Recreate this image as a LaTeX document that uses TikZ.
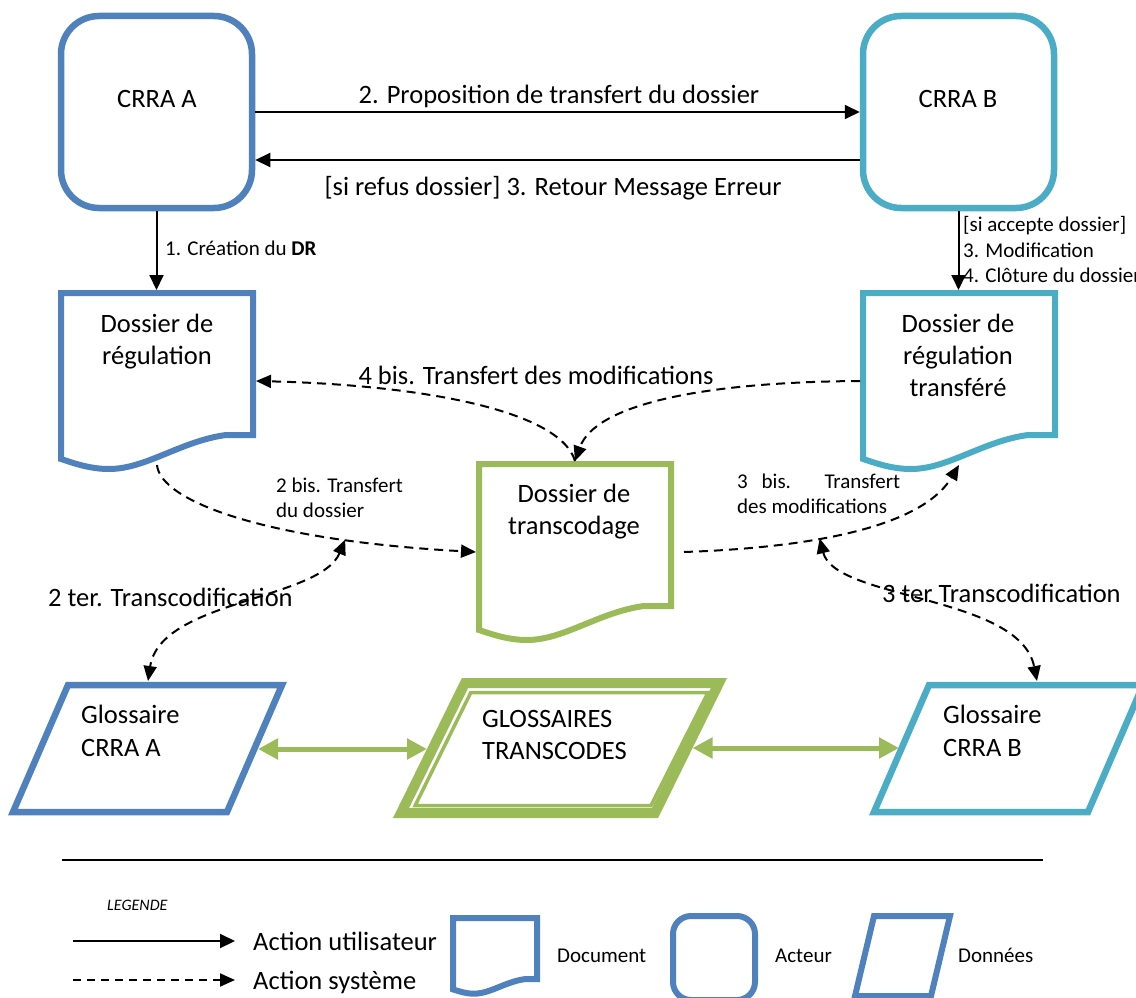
\documentclass[tikz,border=0pt]{standalone}
\usepackage{fontspec}
\setmainfont{Carlito}
\usetikzlibrary{arrows.meta}
\definecolor{actA}{RGB}{79,129,189}
\definecolor{actB}{RGB}{75,172,198}
\definecolor{dataG}{RGB}{155,187,89}
\tikzset{
  big/.style={font=\fontsize{26.5}{32}\selectfont, inner sep=0pt},
  small/.style={font=\fontsize{21}{25}\selectfont, inner sep=0pt},
  useract/.style={line width=2pt, -{Triangle[length=15pt,width=14pt]}},
  sysact/.style={line width=2pt, dash pattern=on 9pt off 6pt, -{Triangle[length=15pt,width=13pt]}},
  sysboth/.style={line width=2pt, dash pattern=on 9pt off 6pt,
    {Triangle[length=15pt,width=13pt]}-{Triangle[length=15pt,width=13pt]}},
  linkg/.style={dataG, line width=5pt,
    {Triangle[length=20pt,width=20pt]}-{Triangle[length=20pt,width=20pt]}},
  actor/.style={draw, rounded corners=38pt, line width=6.5pt,
    minimum width=191pt, minimum height=192pt, inner sep=0pt},
  docpic/.pic={
    \draw[pic actions] (0,0) -- (0,166)
      .. controls (15,171) and (30,176) .. (48,176)
      .. controls (85,176) and (120,148) .. (165,142) -- (192,142) -- (192,0) -- cycle;
    \coordinate (-top) at (96,-3);
    \coordinate (-west) at (-3,88);
    \coordinate (-east) at (195,88);
    \coordinate (-bot) at (96,172);
  }
}
\begin{document}
\begin{tikzpicture}[x=1pt,y=-1pt]
\useasboundingbox (0,0) rectangle (1136,998);

% actors
\node[actor, draw=actA] (crraA) at (156.5,112) {};
\node[actor, draw=actB] (crraB) at (958.5,112) {};
\node[big, anchor=base] (tA) at (157,107) {CRRA A};
\node[big, anchor=base] (tB) at (958,107) {CRRA B};

% documents
\pic[draw=actA, line width=6pt] (docA) at (61,293) {docpic};
\pic[draw=actB, line width=6pt] (docB) at (863,293) {docpic};
\pic[draw=dataG, line width=6pt] (docT) at (479,464) {docpic};
\node[big, anchor=base] (dA1) at (157,332) {Dossier de};
\node[big, anchor=base] (dA2) at (157,364) {régulation};
\node[big, anchor=base] (dB1) at (958,332) {Dossier de};
\node[big, anchor=base] (dB2) at (958,364) {régulation};
\node[big, anchor=base] (dB3) at (958,396) {transféré};
\node[big, anchor=base] (dT1) at (574,502) {Dossier de};
\node[big, anchor=base] (dT2) at (574,534) {transcodage};

% data stores
\draw[actA, line width=6.5pt] (68,685) -- (282,685) -- (227,812) -- (13,812) -- cycle;
\draw[actB, line width=6.5pt] (929,685) -- (1143,685) -- (1088,812) -- (874,812) -- cycle;
\draw[dataG, line width=10pt] (465,683) -- (719,683) -- (655,813) -- (401,813) -- cycle;
\draw[dataG, line width=3.5pt] (470.8,692.5) -- (708,692.5) -- (651,805.5) -- (415.2,805.5) -- cycle;
\coordinate (glA-top) at (148,681);
\coordinate (glA-east) at (258,749);
\coordinate (glB-top) at (1037,681);
\coordinate (glB-west) at (899,748);
\coordinate (glT-west) at (427,749);
\coordinate (glT-east) at (692.5,748);
\node[big, anchor=base west] (gA1) at (81,723) {Glossaire};
\node[big, anchor=base west] (gA2) at (81,756) {CRRA A};
\node[big, anchor=base west] (gB1) at (943,723) {Glossaire};
\node[big, anchor=base west] (gB2) at (943,756) {CRRA B};
\node[big, anchor=base west] (gT1) at (482,727) {GLOSSAIRES};
\node[big, anchor=base west] (gT2) at (482,759) {TRANSCODES};

% user actions
\draw[useract] (crraA.east) -- (crraB.west);
\draw[useract] ([yshift=-48pt]crraB.west) -- ([yshift=-48pt]crraA.east);
\draw[useract] (crraA.south) -- (crraA.south |- docA-top);
\draw[useract] (crraB.south) -- (crraB.south |- docB-top);
\node[big, anchor=base] (l2) at (559,103) {2. Proposition de transfert du dossier};
\node[big, anchor=base] (l3) at (553,195) {[si refus dossier] 3. Retour Message Erreur};
\node[small, anchor=base west] (l1) at (165,255) {1. Création du \textbf{DR}};
\node[small, anchor=base west] (l4a) at (963,231) {[si accepte dossier]};
\node[small, anchor=base west] (l4b) at (963,257) {3. Modification};
\node[small, anchor=base west] (l4c) at (963,282) {4. Clôture du dossier};

% system actions
\draw[sysact] (docB-west) .. controls (700,382) and (595,405) .. (docT-top);
\draw[sysact] (docT-top) .. controls (560,410) and (420,385) .. (docA-east);
\node[big, anchor=base] (l4bis) at (536,384) {4 bis. Transfert des modifications};

\draw[sysact] (docA-bot) .. controls (160,500) and (260,540) .. (docT-west)
  coordinate[pos=0.77] (j2);
\draw[sysboth] (j2) .. controls (320,600) and (160,600) .. (glA-top);
\node[small, anchor=base west] (l2bA) at (276,492) {2 bis. Transfert};
\node[small, anchor=base west] (l2bB) at (276,517) {du dossier};
\node[big, anchor=base west] (l2ter) at (48,606) {2 ter. Transcodification};

\draw[sysact] ([xshift=10pt]docT-east) .. controls (800,548) and (920,530) .. (docB-bot)
  coordinate[pos=0.4] (j3);
\draw[sysboth] (j3) .. controls (835,600) and (1020,595) .. (glB-top);
\node[small, anchor=base west] (l3bA) at (737,488) {\makebox[163pt][s]{3 bis. Transfert}};
\node[small, anchor=base west] (l3bB) at (737,513) {des modifications};
\node[big, anchor=base west] (l3ter) at (882,602) {3 ter Transcodification};

% links between glossaries
\draw[linkg] (glA-east) -- (glT-west);
\draw[linkg] (glT-east) -- (glB-west);

% legend
\draw[line width=1.5pt] (62,860) coordinate (sepL) -- (1043,860) coordinate (sepR);
\node[font=\fontsize{16}{19}\selectfont\itshape, inner sep=0pt, anchor=base west] (leg) at (107,910) {LEGENDE};
\coordinate (u0) at (73,941);
\coordinate (u1) at (235,941);
\coordinate (s0) at (73,980);
\coordinate (s1) at (235,980);
\draw[useract] (u0) -- (u1);
\draw[sysact, dash pattern=on 8pt off 6pt] (s0) -- (s1);
\node[big, anchor=base west] (lu) at (253,950) {Action utilisateur};
\node[big, anchor=base west] (ls) at (253,989) {Action système};
\pic[draw=actA, line width=6pt, xscale=0.4375, yscale=0.43] (docL) at (453,918) {docpic};
\node[small, anchor=base west] (ldoc) at (557,962) {Document};
\node[draw=actA, rounded corners=18pt, line width=6pt, minimum width=82pt,
  minimum height=84pt, inner sep=0pt] (actL) at (714,958) {};
\node[small, anchor=base west] (lact) at (775,962) {Acteur};
\draw[actA, line width=6pt] (874,916) -- (950,916) -- (931,996) -- (855,996) -- cycle;
\node[small, anchor=base west] (ldata) at (958,962) {Données};
\end{tikzpicture}
\end{document}
